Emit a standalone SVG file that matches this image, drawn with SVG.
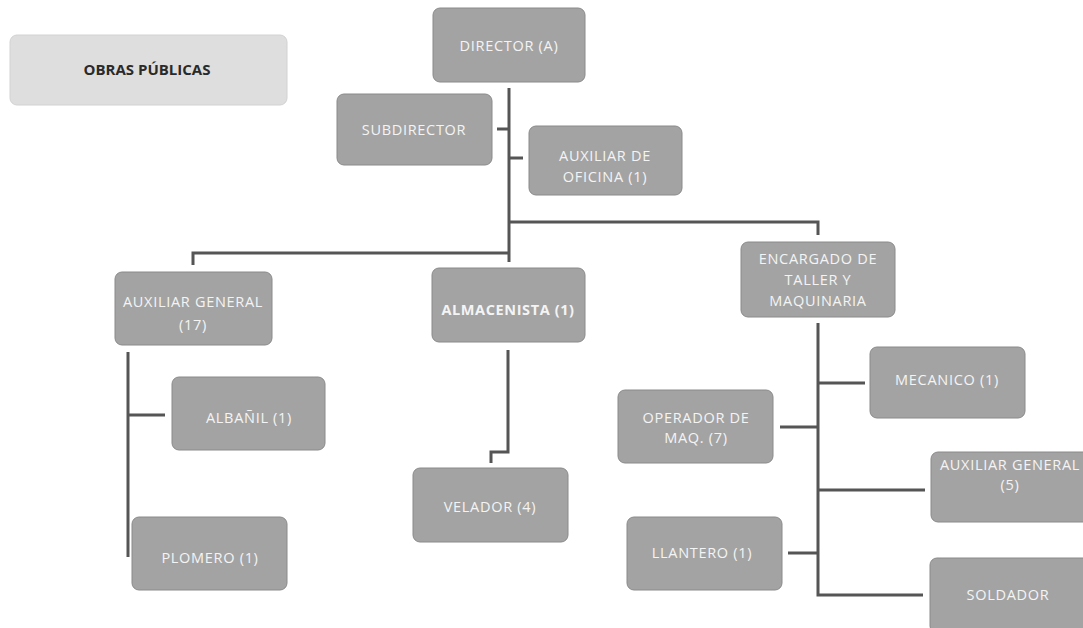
<svg xmlns="http://www.w3.org/2000/svg" width="1083" height="628" viewBox="0 0 1083 628">
<defs>
<style>
.box{fill:#a3a3a3;stroke:#8a8a8a;stroke-width:1}
.title{fill:#dedede;stroke:#d2d2d2;stroke-width:1}
.t{font-family:"Open Sans","Liberation Sans",sans-serif;font-size:14.5px;letter-spacing:0.7px;fill:#f4f4f4;text-anchor:middle}
.tb{font-family:"Open Sans","Liberation Sans",sans-serif;font-size:15px;font-weight:bold;fill:#2a2a2a;text-anchor:middle}
.tw{font-family:"Open Sans","Liberation Sans",sans-serif;font-size:14.5px;letter-spacing:0.6px;font-weight:bold;fill:#f4f4f4;text-anchor:middle}
.c{fill:none;stroke:#555;stroke-width:3}
</style>
</defs>
<rect width="1083" height="628" fill="#ffffff"/>
<g id="connectors">
<polyline class="c" points="509,88 509,262"/>
<line class="c" x1="497" y1="129" x2="508" y2="129"/>
<line class="c" x1="510" y1="158" x2="523" y2="158"/>
<polyline class="c" points="509,253 193,253 193,265"/>
<polyline class="c" points="509,222 818,222 818,235"/>
<polyline class="c" points="128,352 128,557"/>
<line class="c" x1="129" y1="415" x2="165" y2="415"/>
<polyline class="c" points="508,350 508,452 491,452 491,463"/>
<polyline class="c" points="818,323 818,595 923,595"/>
<line class="c" x1="819" y1="383" x2="865" y2="383"/>
<line class="c" x1="780" y1="427" x2="817" y2="427"/>
<line class="c" x1="819" y1="490" x2="925" y2="490"/>
<line class="c" x1="788" y1="553" x2="817" y2="553"/>
</g>
<g id="obras-publicas">
<rect class="title" x="10" y="35" width="277" height="70" rx="7"/>
<text class="tb" x="147" y="75">OBRAS PÚBLICAS</text>
</g>
<g id="director">
<rect class="box" x="433" y="8" width="152" height="74" rx="7"/>
<text class="t" x="509" y="51">DIRECTOR (A)</text>
</g>
<g id="subdirector">
<rect class="box" x="337" y="94" width="155" height="71" rx="7"/>
<text class="t" x="414" y="135">SUBDIRECTOR</text>
</g>
<g id="auxiliar-oficina">
<rect class="box" x="529" y="126" width="153" height="69" rx="7"/>
<text class="t" x="605" y="161">AUXILIAR DE</text>
<text class="t" x="605" y="182">OFICINA (1)</text>
</g>
<g id="auxiliar-general-17">
<rect class="box" x="115" y="272" width="157" height="73" rx="7"/>
<text class="t" x="193" y="307">AUXILIAR  GENERAL</text>
<text class="t" x="193" y="330">(17)</text>
</g>
<g id="almacenista">
<rect class="box" x="432" y="268" width="153" height="74" rx="7"/>
<text class="tw" x="508" y="315">ALMACENISTA (1)</text>
</g>
<g id="encargado">
<rect class="box" x="741" y="242" width="154" height="75" rx="7"/>
<text class="t" x="818" y="264">ENCARGADO DE</text>
<text class="t" x="818" y="285">TALLER Y</text>
<text class="t" x="818" y="306">MAQUINARIA</text>
</g>
<g id="albanil">
<rect class="box" x="172" y="377" width="153" height="73" rx="7"/>
<text class="t" x="249" y="423">ALBAÑIL (1)</text>
</g>
<g id="plomero">
<rect class="box" x="132" y="517" width="155" height="73" rx="7"/>
<text class="t" x="210" y="563">PLOMERO (1)</text>
</g>
<g id="velador">
<rect class="box" x="413" y="468" width="155" height="74" rx="7"/>
<text class="t" x="490" y="512">VELADOR (4)</text>
</g>
<g id="mecanico">
<rect class="box" x="870" y="347" width="155" height="71" rx="7"/>
<text class="t" x="947" y="385">MECANICO (1)</text>
</g>
<g id="operador">
<rect class="box" x="618" y="390" width="155" height="73" rx="7"/>
<text class="t" x="696" y="423">OPERADOR DE</text>
<text class="t" x="696" y="443">MAQ. (7)</text>
</g>
<g id="auxiliar-general-5">
<rect class="box" x="931" y="452" width="162" height="70" rx="7"/>
<text class="t" x="1010" y="470">AUXILIAR GENERAL</text>
<text class="t" x="1010" y="490">(5)</text>
</g>
<g id="llantero">
<rect class="box" x="627" y="517" width="155" height="73" rx="7"/>
<text class="t" x="702" y="558">LLANTERO (1)</text>
</g>
<g id="soldador">
<rect class="box" x="930" y="558" width="160" height="75" rx="7"/>
<text class="t" x="1008" y="600">SOLDADOR</text>
</g>
</svg>
